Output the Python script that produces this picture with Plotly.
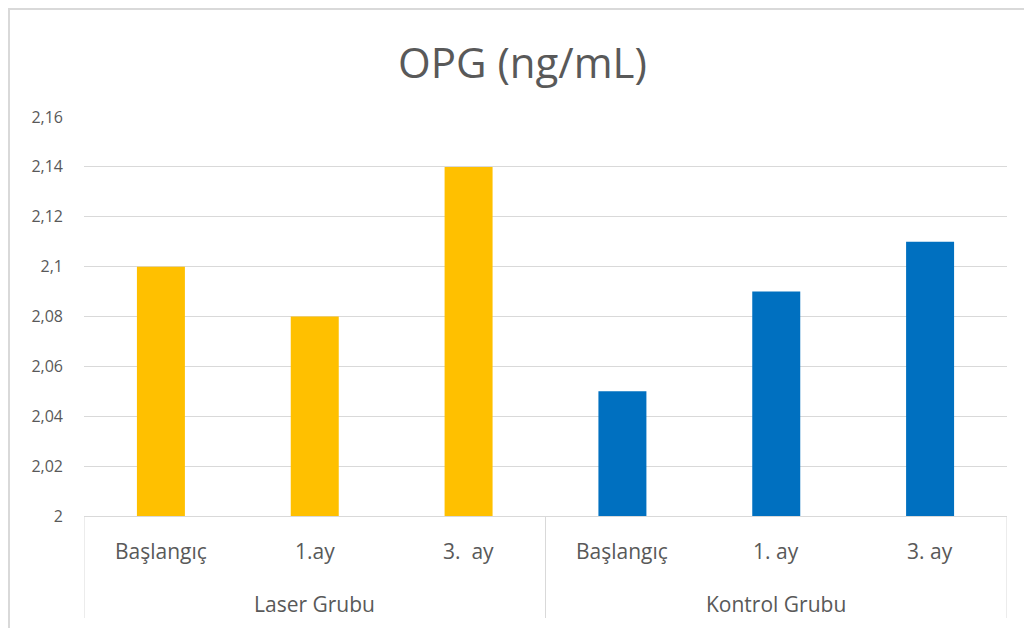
import plotly.graph_objects as go

groups = ["Laser Grubu", "Laser Grubu", "Laser Grubu", "Kontrol Grubu", "Kontrol Grubu", "Kontrol Grubu"]
periods = ["Başlangıç", "1.ay", "3.\u00a0\u00a0ay", "Başlangıç", "1. ay", "3. ay"]
values = [2.10, 2.08, 2.14, 2.05, 2.09, 2.11]
group_colors = {"Laser Grubu": "#FFC000", "Kontrol Grubu": "#0070C0"}
tick_vals = [2.0, 2.02, 2.04, 2.06, 2.08, 2.10, 2.12, 2.14, 2.16]
tick_text = ["2", "2,02", "2,04", "2,06", "2,08", "2,1", "2,12", "2,14", "2,16"]

FONT = "Open Sans"
GREY = "#595959"
LINE = "#d9d9d9"

# figure geometry (the page adds an 8px body margin)
W, H = 1024, 620
L, R, T, B = 76, 25, 109, 112
PW, PH = W - L - R, H - T - B

def px_x(fx):
    return (fx - L) / PW

def px_y(fy):
    return 1 + (T - fy) / PH

pos = list(range(len(periods)))

fig = go.Figure(go.Bar(
    x=pos,
    y=values,
    marker=dict(color=[group_colors[g] for g in groups], line=dict(width=0)),
))

# group structure
uniq_groups = []
for g in groups:
    if g not in uniq_groups:
        uniq_groups.append(g)
group_bounds = []
for g in uniq_groups:
    idx = [i for i, gg in enumerate(groups) if gg == g]
    group_bounds.append((g, min(idx), max(idx)))

annotations = [dict(text="OPG (ng/mL)", xref="paper", yref="paper",
                    x=px_x(514), y=px_y(54),
                    xanchor="center", yanchor="middle", showarrow=False,
                    font=dict(family=FONT, size=42, color=GREY))]
for i, p in zip(pos, periods):
    annotations.append(dict(text=p, xref="x", yref="paper", x=i, y=px_y(T + PH + 35),
                            xanchor="center", yanchor="middle", showarrow=False,
                            font=dict(family=FONT, size=21, color=GREY)))
for g, a, b in group_bounds:
    annotations.append(dict(text=g, xref="x", yref="paper", x=(a + b) / 2, y=px_y(T + PH + 88),
                            xanchor="center", yanchor="middle", showarrow=False,
                            font=dict(family=FONT, size=21, color=GREY)))

shapes = [dict(type="rect", xref="paper", yref="paper",
               x0=px_x(1), x1=px_x(W + 20), y0=px_y(H + 20), y1=px_y(1),
               line=dict(color=LINE, width=2), fillcolor="rgba(0,0,0,0)", layer="below")]
div_x = sorted(set([a - 0.5 for _, a, _ in group_bounds] + [b + 0.5 for _, _, b in group_bounds]))
for dx in div_x:
    shapes.append(dict(type="line", xref="x", yref="paper", x0=dx, x1=dx,
                       y0=0, y1=px_y(T + PH + 102), line=dict(color=LINE, width=1)))

fig.update_layout(
    width=W, height=H,
    margin=dict(l=L, r=R, t=T, b=B, autoexpand=False),
    paper_bgcolor="white", plot_bgcolor="white",
    bargap=0.688,
    showlegend=False,
    font=dict(family=FONT, color=GREY, size=16),
    annotations=annotations,
    shapes=shapes,
)

fig.update_yaxes(range=[2.0, 2.16], tickvals=tick_vals, ticktext=tick_text,
                 showgrid=True, gridcolor=LINE, gridwidth=1,
                 zeroline=False, showline=False, ticks="",
                 ticklabelstandoff=20,
                 tickfont=dict(family=FONT, size=16, color=GREY))
fig.update_xaxes(range=[-0.5, len(periods) - 0.5], showline=True, linecolor=LINE, linewidth=1,
                 showgrid=False, zeroline=False, ticks="", showticklabels=False)

fig.write_html("out.html")
